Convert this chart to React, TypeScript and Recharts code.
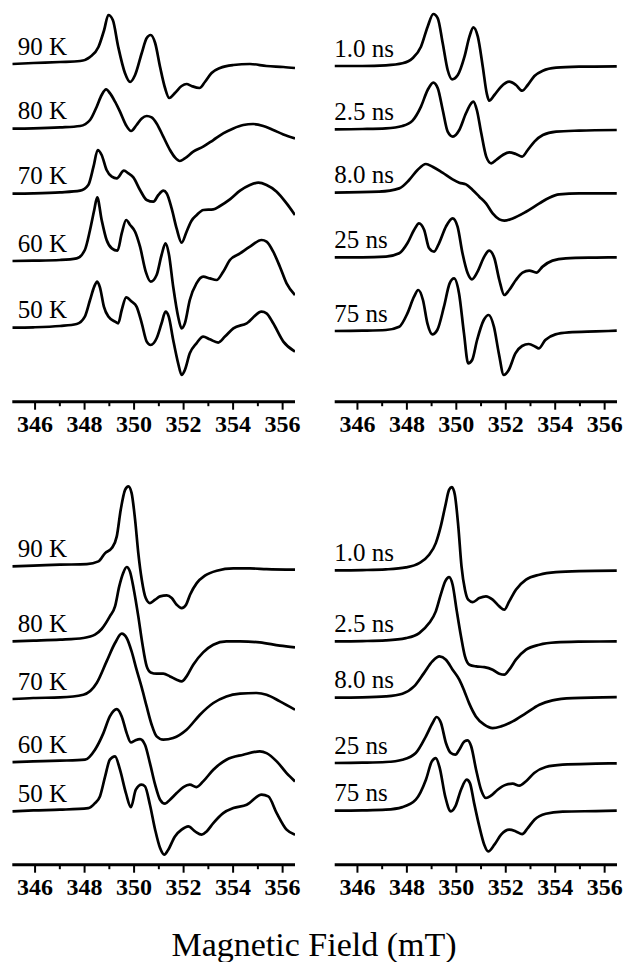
import React from "react";
import { Line, LineChart, XAxis, YAxis } from "recharts";

// field axis (mT)
const fieldTicks = [346, 347, 348, 349, 350, 351, 352, 353, 354, 355, 356];
const fieldDomain: [number, number] = [345.08, 356.5];

const tempLabels = ["90 K", "80 K", "70 K", "60 K", "50 K"];
const timeLabels = ["1.0 ns", "2.5 ns", "8.0 ns", "25 ns", "75 ns"];

// vertical stacking offset of each trace
const topLeftOffsets = [337.7, 273, 208, 141, 74.4];
const topRightOffsets = [335.7, 272.4, 209, 144.4, 71];
const bottomLeftOffsets = [298.3, 224, 166, 103.3, 54.3];
const bottomRightOffsets = [294.3, 223.3, 167.3, 101.7, 54.3];

type Pt = [number, number];

// top left: experiment, temperature series
const tl90K: Pt[] = [
  [345.08, 0], [345.93, 1], [347.01, 2], [347.82, 3], [348.22, 7], [348.56, 17], [348.79, 34],
  [348.96, 49], [349.14, 44], [349.36, 17], [349.63, -9], [349.84, -18], [350.04, -11], [350.31, 11],
  [350.51, 26], [350.67, 29], [350.85, 21], [351.05, -3], [351.25, -24], [351.42, -34], [351.65, -29],
  [351.92, -22], [352.12, -20], [352.32, -22], [352.64, -24], [352.86, -18], [353.13, -9], [353.47, -4],
  [354.01, -1], [354.68, 0], [355.35, -2], [356.03, -3], [356.5, -4],
];
const tl80K: Pt[] = [
  [345.08, 0], [345.93, 0.3], [347.01, 1.3], [347.82, 2.7], [348.22, 8.7], [348.49, 22], [348.69, 33.7],
  [348.87, 39.3], [349.03, 35.3], [349.23, 27], [349.43, 17], [349.67, 3.7], [349.88, -2.3], [350.1, 3.7],
  [350.31, 10.3], [350.51, 12.7], [350.71, 11.3], [350.91, 5.3], [351.18, -8], [351.45, -21.3],
  [351.65, -28.7], [351.85, -32.3], [352.05, -29.7], [352.39, -23], [352.79, -18], [353.2, -11.3],
  [353.6, -4.7], [354.01, 0.3], [354.41, 3.7], [354.81, 4.7], [355.22, 2.7], [355.62, -1.3],
  [356.03, -5.7], [356.5, -9.7],
];
const tl70K: Pt[] = [
  [345.08, 0], [345.93, 0.3], [347.01, 1.3], [347.82, 3], [348.15, 8.7], [348.36, 27], [348.53, 43.7],
  [348.69, 38.7], [348.89, 23.7], [349.1, 17], [349.3, 15.3], [349.59, 23], [349.77, 20.3], [349.97, 16.3],
  [350.24, 3.7], [350.51, -6.3], [350.78, -8], [350.98, -1.3], [351.18, 3], [351.32, 0.3], [351.52, -15],
  [351.72, -35], [351.92, -49], [352.12, -38], [352.32, -27], [352.53, -21.3], [352.8, -16.3],
  [353.2, -15.7], [353.47, -12.3], [353.87, -5.7], [354.28, 3], [354.68, 8.7], [355.02, 11],
  [355.35, 8.7], [355.76, 2], [356.16, -9.7], [356.5, -21.3],
];
const tl60K: Pt[] = [
  [345.08, -0.3], [345.93, 0], [347.01, 0.7], [347.68, 2.3], [348.01, 10.7], [348.22, 30.7],
  [348.39, 50.7], [348.51, 63.3], [348.69, 40.7], [348.89, 20.7], [349.1, 12.3], [349.33, 10],
  [349.5, 27.3], [349.68, 40.7], [349.84, 35.7], [350.04, 29], [350.24, 14], [350.47, -11], [350.67, -21],
  [350.91, -14.3], [351.11, 5.7], [351.27, 17.3], [351.4, 7.3], [351.58, -26], [351.78, -56],
  [351.92, -67.7], [352.05, -62.7], [352.25, -39.3], [352.52, -22.7], [352.79, -16], [353.06, -17.7],
  [353.33, -19.3], [353.6, -11], [353.87, 0.7], [354.28, 7.3], [354.68, 14], [355.15, 20.7],
  [355.35, 19], [355.62, 9], [355.89, -6], [356.16, -22.7], [356.5, -34.3],
];
const tl50K: Pt[] = [
  [345.08, -0.3], [345.93, 0], [347.01, 1.3], [347.68, 3.3], [348.01, 10.7], [348.22, 27.3],
  [348.39, 40.7], [348.51, 45.7], [348.62, 40], [348.78, 20.7], [348.96, 10.7], [349.23, 5.7],
  [349.36, 4], [349.5, 17.3], [349.68, 30], [349.9, 25.7], [350.1, 20.7], [350.31, 4], [350.51, -14.3],
  [350.67, -17.7], [350.91, -11], [351.11, 4], [351.27, 15.7], [351.4, 10.7], [351.58, -12.7],
  [351.78, -36], [351.92, -47.7], [352.05, -42.7], [352.25, -26], [352.52, -16], [352.79, -9.3],
  [353.06, -12], [353.4, -15.3], [353.67, -9.3], [354.01, -1], [354.55, 4], [355.15, 15.7],
  [355.35, 14], [355.62, 4], [356.03, -14.3], [356.5, -24.3],
];

// top right: simulation, correlation time series
const tr1ns: Pt[] = [
  [345.06, 0], [346.2, 0], [347.15, 0.7], [347.82, 2.7], [348.23, 7.7], [348.57, 19.3], [348.84, 39.3],
  [349.07, 52], [349.25, 47.7], [349.45, 22.7], [349.65, -4], [349.83, -13.3], [350.06, -9],
  [350.33, 9.3], [350.53, 29.3], [350.69, 38.7], [350.87, 29.3], [351.07, -0.7], [351.23, -27.3],
  [351.33, -34.7], [351.54, -29], [351.81, -20.7], [352.14, -15.7], [352.41, -19], [352.66, -24.7],
  [352.89, -19], [353.16, -10], [353.5, -4.7], [354.04, -1.7], [354.97, -0.7], [356.49, -0.3],
];
const tr2ns: Pt[] = [
  [345.06, 0], [346.2, 0.3], [347.15, 1], [347.82, 3.3], [348.23, 8.7], [348.57, 22.7], [348.84, 39.3],
  [349.07, 46.7], [349.25, 41], [349.45, 19.3], [349.65, -2.3], [349.86, -7.3], [350.12, -0.7],
  [350.39, 16], [350.6, 26], [350.69, 27.7], [350.83, 19.3], [351.01, -4], [351.21, -27.3], [351.41, -34],
  [351.61, -30.7], [351.88, -25.7], [352.14, -23], [352.41, -24.7], [352.66, -27.3], [352.89, -20.7],
  [353.16, -12.3], [353.5, -5.7], [354.04, -2.3], [354.97, -1.3], [356.49, -0.7],
];
const tr8ns: Pt[] = [
  [345.06, 0], [346.88, 1], [347.69, 4.3], [348.09, 12.7], [348.43, 22.7], [348.77, 28.7], [349.04, 26],
  [349.44, 20], [349.85, 13.3], [350.12, 10], [350.39, 8.3], [350.66, 2.7], [350.93, -4], [351.2, -10.7],
  [351.47, -20.7], [351.74, -26.7], [351.94, -28], [352.28, -25.7], [352.82, -19], [353.36, -10.7],
  [353.76, -5], [354.16, -1.7], [354.97, -0.7], [356.49, -0.7],
];
const tr25ns: Pt[] = [
  [345.06, 0], [346.2, 0], [347.15, 0.7], [347.69, 4], [348.02, 14], [348.29, 27.3], [348.49, 34],
  [348.7, 27.3], [348.9, 9], [349.1, 5.7], [349.3, 14], [349.58, 30.7], [349.85, 39], [350.05, 30.7],
  [350.25, 4], [350.46, -16], [350.63, -22], [350.86, -14.3], [351.13, 0.7], [351.33, 6.7], [351.54, -1],
  [351.74, -22.7], [351.94, -37.7], [352.14, -32.7], [352.41, -22.7], [352.68, -15.3], [352.95, -13.3],
  [353.24, -15.3], [353.49, -9.3], [353.89, -3.3], [354.43, -1], [355.65, -0.3], [356.49, 0],
];
const tr75ns: Pt[] = [
  [345.06, -0.3], [346.2, 0], [347.15, 0.7], [347.69, 4], [348.02, 17.3], [348.29, 34], [348.46, 40.7],
  [348.65, 30.7], [348.83, 7.3], [349.03, -3.7], [349.23, 0.7], [349.5, 24], [349.73, 47.3],
  [349.91, 52.3], [350.11, 37.3], [350.31, -2.7], [350.48, -32.7], [350.64, -29.3], [350.84, -9.3],
  [351.11, 10.7], [351.31, 15.7], [351.52, 4], [351.72, -22.7], [351.92, -44.3], [352.12, -39.3],
  [352.39, -22.7], [352.66, -15.3], [352.93, -13.3], [353.2, -16], [353.33, -17.7], [353.6, -9.3],
  [354.01, -3.7], [354.55, -1.7], [355.65, -0.7], [356.49, 0],
];

// bottom left: experiment, temperature series
const bl90K: Pt[] = [
  [345.08, 0], [345.93, 0.7], [347.01, 1.7], [348.09, 2.3], [348.56, 5], [348.83, 13.3], [349.1, 18.3],
  [349.3, 30], [349.46, 56.7], [349.64, 76.7], [349.77, 80], [349.9, 73.3], [350.04, 46.7],
  [350.17, 13.3], [350.31, -13.3], [350.47, -31.7], [350.64, -36.7], [350.85, -33.3], [351.05, -30],
  [351.32, -29], [351.52, -31.7], [351.72, -38.3], [351.92, -41.7], [352.1, -38.3], [352.26, -28.3],
  [352.53, -16.7], [352.86, -9.3], [353.34, -4.3], [354.01, -2], [354.68, -2], [355.35, -2.7], [356.5, -3.3],
];
const bl80K: Pt[] = [
  [345.08, -0.7], [345.93, 0], [347.01, 1], [347.95, 2.7], [348.42, 6], [348.69, 11.7], [349.02, 24.3],
  [349.23, 34.3], [349.4, 54.3], [349.56, 67.7], [349.7, 73.7], [349.83, 69.3], [349.99, 51],
  [350.17, 24.3], [350.33, -2.3], [350.51, -25.7], [350.67, -31.7], [350.91, -33], [351.18, -33],
  [351.45, -35.7], [351.72, -39], [351.92, -40.7], [352.12, -35.7], [352.39, -24], [352.79, -11.7],
  [353.2, -4], [353.73, -0.7], [354.28, -0.7], [355.08, -1.7], [355.89, -5], [356.5, -6.7],
];
const bl70K: Pt[] = [
  [345.08, -0.3], [345.93, 0.7], [347.01, 1.3], [347.95, 4], [348.49, 15.7], [348.89, 37.3],
  [349.23, 55.7], [349.5, 65], [349.7, 60.7], [349.9, 47.3], [350.1, 29], [350.31, 11], [350.51, -8],
  [350.71, -26], [350.91, -37.7], [351.18, -41], [351.58, -39.3], [352.12, -31],
  [352.66, -16], [353.2, -4.3], [353.73, 2.3], [354.28, 5], [354.95, 5.7], [355.35, 4], [355.89, -2.7],
  [356.5, -11],
];
const bl60K: Pt[] = [
  [345.08, -0.7], [345.93, 0], [347.01, 0.7], [348.02, 1.7], [348.42, 11.7], [348.76, 28.3], [349.02, 45],
  [349.3, 52.3], [349.5, 45], [349.7, 28.3], [349.87, 19], [350.04, 21], [350.24, 22.3], [350.44, 16.7],
  [350.64, -1.7], [350.85, -23.3], [351.05, -38.3], [351.25, -42.3], [351.45, -38.3], [351.72, -31.7],
  [351.99, -25.7], [352.25, -23.3], [352.52, -25.7], [352.79, -20], [353.2, -8.3], [353.73, 1.7],
  [354.41, 6.7], [355.08, 10], [355.35, 8.3], [355.76, 0], [356.16, -11.7], [356.5, -20],
];
const bl50K: Pt[] = [
  [345.08, -1], [345.93, 0], [347.01, 0.7], [348.15, 2.3], [348.42, 7.3], [348.62, 14], [348.83, 34],
  [349.02, 50.7], [349.23, 54], [349.43, 40.7], [349.67, 17.3], [349.87, 3.3], [350.07, 20.7],
  [350.3, 25.7], [350.44, 24], [350.64, 5.7], [350.85, -19.3], [351.05, -37.7], [351.22, -44.3],
  [351.38, -39.3], [351.65, -26], [351.92, -19.3], [352.19, -16], [352.46, -21], [352.73, -24.3],
  [352.93, -21], [353.2, -12.7], [353.6, -2.7], [354.01, 2.3], [354.55, 5.7], [355.15, 15.7],
  [355.42, 14], [355.76, -2.7], [356.16, -19.3], [356.5, -24.3],
];

// bottom right: simulation, correlation time series
const br1ns: Pt[] = [
  [345.06, 0], [346.2, 0.3], [347.15, 1], [347.96, 3], [348.5, 7.3], [348.9, 15.7], [349.17, 27.3],
  [349.37, 44], [349.55, 64], [349.71, 80.7], [349.82, 83.3], [349.94, 75.7], [350.08, 44], [350.21, 4],
  [350.35, -19.3], [350.48, -29.3], [350.66, -31.7], [350.93, -27.7], [351.2, -26], [351.47, -29.3],
  [351.74, -36], [351.94, -39.3], [352.14, -31], [352.41, -19.3], [352.82, -9.3], [353.36, -4.3],
  [354.03, -1.7], [354.97, -0.7], [356.49, -0.3],
];
const br2ns: Pt[] = [
  [345.06, 0], [346.2, 0.3], [347.15, 1], [347.96, 3.3], [348.5, 8.3], [348.9, 18.3], [349.17, 30],
  [349.37, 46.7], [349.55, 60], [349.71, 64.3], [349.85, 56.7], [350.01, 31.7], [350.19, 5],
  [350.35, -15], [350.53, -23.3], [350.8, -25], [351.13, -25.7], [351.47, -28.3], [351.74, -32.3],
  [351.94, -33.3], [352.14, -28.3], [352.41, -18.3], [352.82, -8.3], [353.36, -3.3], [354.03, -1],
  [354.97, -0.3], [356.49, 0],
];
const br8ns: Pt[] = [
  [345.06, -0.3], [346.2, 0], [347.15, 1], [347.82, 3.7], [348.29, 11], [348.69, 24.3], [349.03, 36],
  [349.32, 41], [349.58, 37.7], [349.85, 27.7], [350.12, 17.7], [350.33, 6], [350.52, -6],
  [350.79, -19], [351.13, -27.3], [351.47, -30.7], [351.81, -29], [352.28, -24],
  [352.82, -15.7], [353.36, -7.3], [353.89, -3], [354.7, -0.7], [356.49, 0.3],
];
const br25ns: Pt[] = [
  [345.06, 0], [346.2, 0.3], [347.15, 1], [347.82, 3.3], [348.36, 10], [348.77, 26.7], [349.04, 40],
  [349.2, 46], [349.38, 40], [349.58, 20], [349.78, 10], [349.96, 8.3], [350.12, 13.3], [350.33, 21.7],
  [350.46, 22.7], [350.6, 16.7], [350.8, -6.7], [351.0, -26.7], [351.2, -35], [351.4, -32.7],
  [351.67, -26.7], [352.01, -21.7], [352.28, -20.7], [352.55, -22.7], [352.82, -18.3], [353.15, -10],
  [353.62, -4], [354.3, -1.7], [355.65, -0.7], [356.49, -0.3],
];
const br75ns: Pt[] = [
  [345.06, -0.3], [346.2, 0], [347.15, 0.7], [347.82, 3.3], [348.36, 10.7], [348.77, 30.7], [349.01, 49],
  [349.17, 52.3], [349.33, 42.3], [349.55, 14], [349.78, -1], [349.96, 4], [350.19, 20.7], [350.42, 30.7],
  [350.55, 27.3], [350.72, 7.3], [350.93, -16], [351.13, -34.3], [351.29, -41], [351.54, -34.3],
  [351.81, -24.3], [352.14, -19.3], [352.41, -21], [352.66, -23.7], [352.89, -17.7], [353.16, -9.3],
  [353.62, -3.3], [354.3, -1.3], [355.65, -0.7], [356.49, -0.3],
];

const SERIF = "'Liberation Serif', 'Times New Roman', Times, serif";
const PLOT_H = 401.7;
const AXIS_H = 38.3;

const panels = [
  { key: "tl", traces: [tl90K, tl80K, tl70K, tl60K, tl50K], offsets: topLeftOffsets, labels: tempLabels, left: 0, top: 0, ml: 12.3, mr: 18, dx: 5.5 },
  { key: "tr", traces: [tr1ns, tr2ns, tr8ns, tr25ns, tr75ns], offsets: topRightOffsets, labels: timeLabels, left: 313, top: 0, ml: 21.7, mr: 9, dx: 0 },
  { key: "bl", traces: [bl90K, bl80K, bl70K, bl60K, bl50K], offsets: bottomLeftOffsets, labels: tempLabels, left: 0, top: 463.3, ml: 12.3, mr: 18, dx: 5.5 },
  { key: "br", traces: [br1ns, br2ns, br8ns, br25ns, br75ns], offsets: bottomRightOffsets, labels: timeLabels, left: 313, top: 463.3, ml: 21.7, mr: 9, dx: 0 },
];

// major ticks with labels on even fields, short minor ticks on odd ones
function FieldTick(props: any) {
  const { x, y, payload } = props;
  const major = payload.value % 2 === 0;
  return (
    <g>
      <line x1={x} x2={x} y1={y} y2={y + (major ? 8 : 4.5)} stroke="#000" strokeWidth={2} />
      {major && (
        <text x={x} y={y + 30} textAnchor="middle" style={{ fontFamily: SERIF, fontWeight: "bold", fontSize: 24 }} fill="#000">
          {payload.value}
        </text>
      )}
    </g>
  );
}

const traceLabel = (text: string, dx: number) => (p: any) => {
  if (p.index !== 0) return null;
  const x = p.x ?? p.viewBox?.x;
  const y = p.y ?? p.viewBox?.y;
  return (
    <text x={x + dx} y={y - 9.5} style={{ fontFamily: SERIF, fontSize: 25 }} fill="#000">
      {text}
    </text>
  );
};

function Panel({ panel }: { panel: (typeof panels)[number] }) {
  return (
    <div style={{ position: "absolute", left: panel.left, top: panel.top }}>
      <LineChart width={313} height={PLOT_H + AXIS_H} margin={{ top: 0, right: panel.mr, bottom: 0, left: panel.ml }}>
        <XAxis
          type="number"
          dataKey="b"
          domain={fieldDomain}
          allowDataOverflow
          ticks={fieldTicks}
          interval={0}
          tickLine={false}
          tickSize={0}
          tickMargin={0}
          height={AXIS_H}
          axisLine={{ stroke: "#000", strokeWidth: 3 }}
          tick={<FieldTick />}
        />
        <YAxis type="number" hide domain={[0, PLOT_H]} allowDataOverflow />
        {panel.traces.map((trace, i) => (
          <Line
            key={`${panel.key}-${i}`}
            data={trace.map(([b, s]) => ({ b, s: s + panel.offsets[i] }))}
            dataKey="s"
            type="monotone"
            stroke="#000"
            strokeWidth={2.7}
            dot={false}
            activeDot={false}
            isAnimationActive={false}
            label={traceLabel(panel.labels[i], panel.dx)}
          />
        ))}
      </LineChart>
    </div>
  );
}

export default function App() {
  return (
    <div style={{ position: "absolute", left: 0, top: 0, width: 626, height: 962, background: "#fff", overflow: "hidden" }}>
      {panels.map((p) => (
        <Panel key={p.key} panel={p} />
      ))}
      <svg width={626} height={962} style={{ position: "absolute", left: 0, top: 0, pointerEvents: "none" }}>
        <text x={314} y={956} textAnchor="middle" style={{ fontFamily: SERIF, fontSize: 34 }} fill="#000">
          Magnetic Field (mT)
        </text>
      </svg>
    </div>
  );
}
